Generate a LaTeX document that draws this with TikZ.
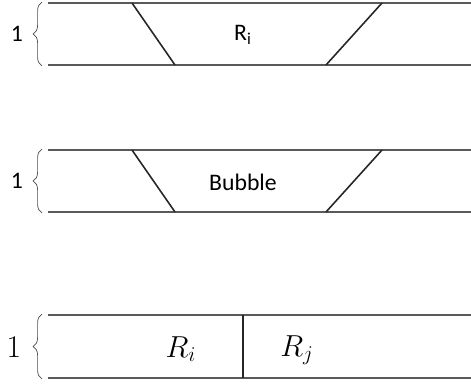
\documentclass[tikz,border=0pt]{standalone}
\usepackage{fontspec}
\newfontfamily\calibri{Carlito}
\usetikzlibrary{decorations.pathreplacing}
\tikzset{
    rail/.style = {black!65, line width = 1.7pt},
    slant/.style = {black!85, line width = 0.9pt},
    unitbrace/.style = {black!70, thin, decorate, decoration = {brace, mirror, amplitude = 5pt}},
}
\begin{document}
\begin{tikzpicture}[x = 0.02cm, y = -0.02cm]
    \useasboundingbox (0, 0) rectangle (471, 385);
    % the two trapezoid strips, with the unit height on the left
    \foreach \y/\lab/\nm in {3/R\textsubscript{i}/ri, 150/Bubble/bubble}{
        \draw[rail] (48, \y) -- (471, \y);
        \draw[rail] (48, \y + 62) -- (471, \y + 62);
        \draw[slant] (132, \y) -- (175, \y + 62);
        \draw[slant] (382, \y) -- (326, \y + 62);
        \draw[unitbrace] (42, \y - 1) -- (42, \y + 63);
        \node[font = \calibri\fontsize{13.5}{15}\selectfont] (one-\nm) at (17, \y + 31) {1};
        \node[font = \calibri\fontsize{13.5}{15}\selectfont] (\nm) at (243, \y + 32) {\lab};
    }
    % the split strip
    \draw[rail] (48, 315) -- (471, 315);
    \draw[rail] (48, 378) -- (471, 378);
    \draw[slant] (243, 315) -- (243, 378);
    \draw[unitbrace] (42, 314) -- (42, 379);
    \node[font = \fontsize{18}{20}\selectfont] (one-split) at (14, 347) {1};
    \node[font = \fontsize{18}{20}\selectfont] (ri-split) at (181, 349) {$R_i$};
    \node[font = \fontsize{18}{20}\selectfont] (rj-split) at (297, 350) {$R_j$};
\end{tikzpicture}
\end{document}
